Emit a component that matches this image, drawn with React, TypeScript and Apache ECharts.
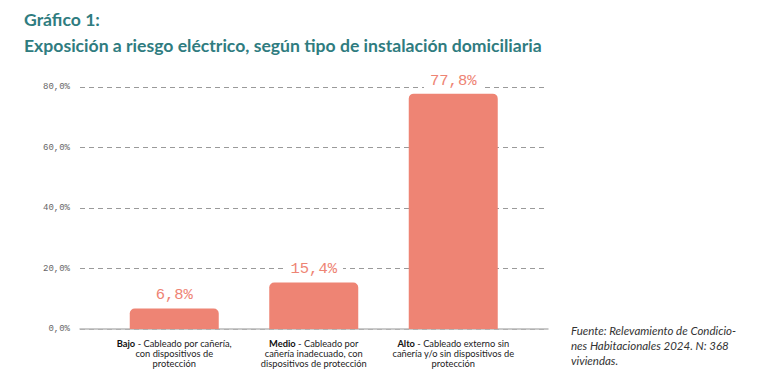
import React, { useEffect, useRef } from "react";
import * as echarts from "echarts";

const categories = ["Bajo", "Medio", "Alto"];
const categoryDescriptions = [
  "Cableado por cañería,\ncon dispositivos de\nprotección",
  "Cableado por\ncañería inadecuado, con\ndispositivos de protección",
  "Cableado externo sin\ncañería y/o sin dispositivos de\nprotección",
];
const values = [6.8, 15.4, 77.8];
const yTicks = [0, 20, 40, 60, 80];

const TITLE_LINE1 = "Gráfico 1:";
const TITLE_LINE2 = "Exposición a riesgo eléctrico, según tipo de instalación domiciliaria";
const SOURCE = "Fuente: Relevamiento de Condicio-\nnes Habitacionales 2024. N: 368\nviviendas.";

const fmt = (v: number) => v.toFixed(1).replace(".", ",") + "%";

export default function App() {
  const ref = useRef<HTMLDivElement>(null);
  useEffect(() => {
    document.body.style.margin = "0";
    if (!ref.current) return;
    const chart = echarts.init(ref.current, null, { renderer: "svg" });
    const barColor = "#ee8474";
    const mono = "'Liberation Mono', 'DejaVu Sans Mono', monospace";
    chart.setOption({
      animation: false,
      backgroundColor: "#ffffff",
      title: [
        {
          text: TITLE_LINE1 + "\n" + TITLE_LINE2,
          left: 19,
          top: 1,
          textStyle: {
            fontFamily: "Lato",
            fontWeight: "bold",
            fontSize: 17.6,
            color: "#2f7c80",
            lineHeight: 26,
          },
        },
      ],
      graphic: [
        {
          type: "text",
          left: 571,
          top: 323,
          style: {
            text: SOURCE,
            fontFamily: "Lato",
            fontStyle: "italic",
            fontSize: 11.5,
            lineHeight: 15,
            fill: "#333333",
          },
        },
      ],
      grid: [
        { left: 80, right: 226, top: 87, bottom: 49, containLabel: false },
        { left: 104.5, width: 418.5, top: 87, bottom: 49, containLabel: false },
      ],
      xAxis: [
        {
          gridIndex: 0,
          type: "category",
          data: categories,
          axisLine: { show: true, lineStyle: { color: "#b8b8b8", width: 1.5 } },
          axisTick: { show: false },
          axisLabel: { show: false },
        },
        {
          gridIndex: 1,
          type: "category",
          data: categories,
          axisLine: { show: false },
          axisTick: { show: false },
          axisLabel: {
            show: true,
            margin: 9,
            interval: 0,
            formatter: (v: string, i: number) => {
              const lines = categoryDescriptions[i].split("\n");
              return (
                "{b|" + v + "}{n| - " + lines[0] + "}\n" +
                lines.slice(1).map((l) => "{n|" + l + "}").join("\n")
              );
            },
            rich: {
              b: { fontFamily: "Lato", fontWeight: "bold", fontSize: 9.3, color: "#111", lineHeight: 10.3 },
              n: { fontFamily: "Lato", fontSize: 9.3, color: "#222", lineHeight: 10.3 },
            },
          },
        },
      ],
      yAxis: [
        {
          gridIndex: 0,
          type: "value",
          min: 0,
          max: 80,
          interval: 20,
          axisLine: { show: false },
          axisTick: { show: false },
          splitLine: {
            show: true,
            lineStyle: { color: "#9a9a9a", type: [5, 4], width: 1 },
          },
          axisLabel: {
            margin: 10,
            fontFamily: mono,
            fontSize: 9,
            color: "#666666",
            formatter: (v: number) => (yTicks.includes(v) ? fmt(v) : ""),
          },
        },
        {
          gridIndex: 1,
          type: "value",
          min: 0,
          max: 80,
          interval: 20,
          show: false,
          splitLine: { show: false },
        },
      ],
      series: [
        {
          type: "bar",
          xAxisIndex: 1,
          yAxisIndex: 1,
          data: values,
          barWidth: 89,
          itemStyle: { color: barColor, borderRadius: [5, 5, 0, 0] },
          label: {
            show: true,
            position: "top",
            distance: 5,
            fontFamily: mono,
            fontSize: 15.5,
            color: barColor,
            backgroundColor: "#ffffff",
            padding: [0, 6],
            formatter: (p: any) => fmt(p.value),
          },
        },
      ],
    });
    return () => chart.dispose();
  }, []);
  return <div ref={ref} style={{ width: 774, height: 378 }} />;
}
